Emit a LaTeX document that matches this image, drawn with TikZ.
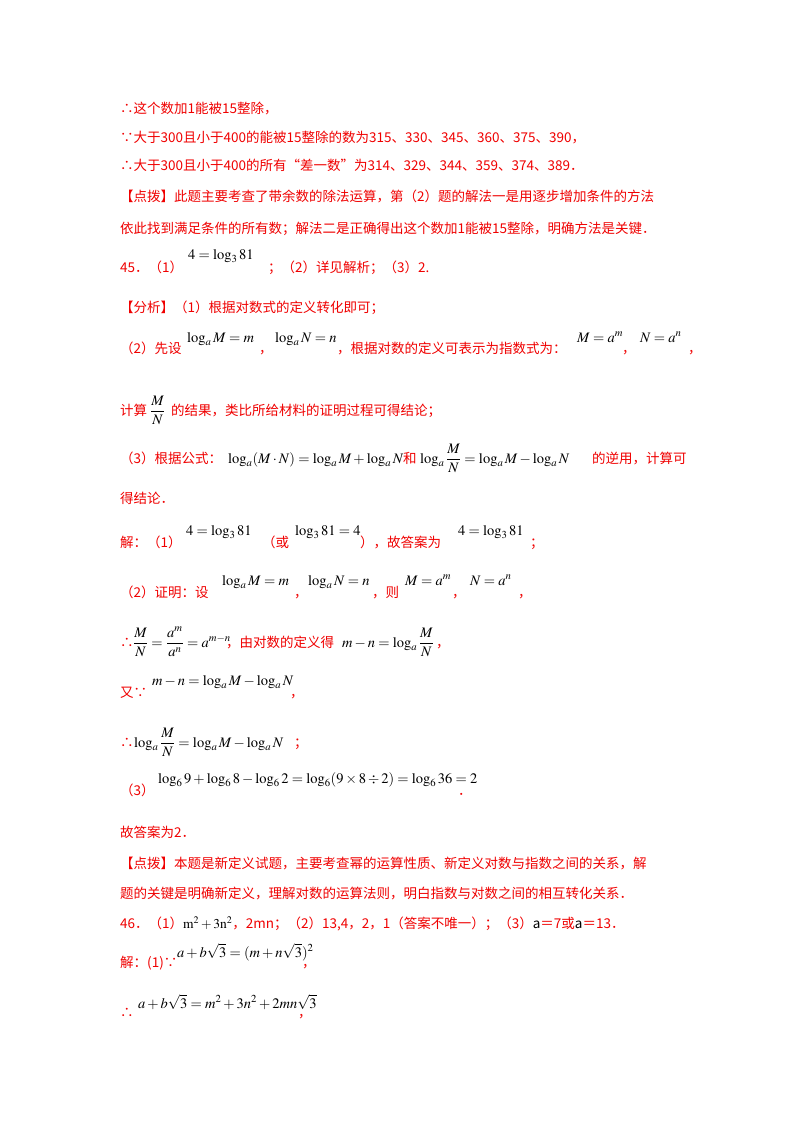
\documentclass[tikz,border=0pt]{standalone}
\usepackage{amsmath}
\usepackage{mathptmx}
\usepackage{fontspec}
\newfontfamily\cjk{Noto Sans CJK SC}
\begin{document}
\begin{tikzpicture}[x=1pt,y=-1pt,
  t/.style={anchor=base west,inner sep=0pt,text={rgb,255:red,240;green,0;blue,0},font=\fontsize{13.5}{15}\cjk\selectfont},
  m/.style={anchor=base west,inner sep=0pt,text=black,font=\fontsize{14.5}{15}\selectfont}]
\useasboundingbox[fill=white] (0,0) rectangle (800,1132);
\node[t] (l1) at (120,113) {∴这个数加1能被15整除，};
\node[t] (l2) at (120,142) {∵大于300且小于400的能被15整除的数为315、330、345、360、375、390，};
\node[t] (l3) at (120,170) {∴大于300且小于400的所有“差一数”为314、329、344、359、374、389．};
\node[t] (l4) at (120,201) {【点拨】此题主要考查了带余数的除法运算，第（2）题的解法一是用逐步增加条件的方法};
\node[t] (l5) at (120,233) {依此找到满足条件的所有数；解法二是正确得出这个数加1能被15整除，明确方法是关键．};
\node[t] (l6) at (120,272) {45．（1）};
\node[m] (l6m) at (188,259) {$4=\log_3 81$};
\node[t] (l6b) at (268,272) {；（2）详见解析；（3）2.};
\node[t] (l7) at (120,312) {【分析】（1）根据对数式的定义转化即可；};
\node[t] (l8) at (120,353) {（2）先设};
\node[m] (l8a) at (187,342) {$\log_a M=m$};
\node[t] (l8b) at (259,353) {，};
\node[m] (l8c) at (275,342) {$\log_a N=n$};
\node[t] (l8d) at (337,353) {，根据对数的定义可表示为指数式为：};
\node[m] (l8e) at (577,342) {$M=a^m$};
\node[t] (l8f) at (622,353) {，};
\node[m] (l8g) at (640,342) {$N=a^n$};
\node[t] (l8h) at (688,353) {，};
\node[t] (l9) at (120,415) {计算};
\node[m] (l9a) at (150,415) {$\dfrac{M}{N}$};
\node[t] (l9b) at (171,415) {的结果，类比所给材料的证明过程可得结论；};
\node[t] (l10) at (120,463) {（3）根据公式：};
\node[m] (l10a) at (228,463) {$\log_a(M\cdot N)=\log_a M+\log_a N$};
\node[t] (l10b) at (403,463) {和};
\node[m] (l10c) at (420,463) {$\log_a\dfrac{M}{N}=\log_a M-\log_a N$};
\node[t] (l10d) at (592,463) {的逆用，计算可};
\node[t] (l11) at (120,503) {得结论．};
\node[t] (l12) at (120,547) {解：（1）};
\node[m] (l12a) at (186,535) {$4=\log_3 81$};
\node[t] (l12b) at (262,547) {（或};
\node[m] (l12c) at (295,535) {$\log_3 81=4$};
\node[t] (l12d) at (360,547) {），故答案为};
\node[m] (l12e) at (458,535) {$4=\log_3 81$};
\node[t] (l12f) at (530,547) {；};
\node[t] (l13) at (120,597) {（2）证明：设};
\node[m] (l13a) at (222,585) {$\log_a M=m$};
\node[t] (l13b) at (294,597) {，};
\node[m] (l13c) at (308,585) {$\log_a N=n$};
\node[t] (l13d) at (372,597) {，则};
\node[m] (l13e) at (405,585) {$M=a^m$};
\node[t] (l13f) at (452,597) {，};
\node[m] (l13g) at (470,585) {$N=a^n$};
\node[t] (l13h) at (518,597) {，};
\node[t] (l14) at (120,647) {∴};
\node[m] (l14a) at (133,647) {$\dfrac{M}{N}=\dfrac{a^m}{a^n}=a^{m-n}$};
\node[t] (l14b) at (226,647) {，由对数的定义得};
\node[m] (l14c) at (342,647) {$m-n=\log_a\dfrac{M}{N}$};
\node[t] (l14d) at (436,647) {，};
\node[t] (l15) at (120,697) {又∵};
\node[m] (l15a) at (152,685) {$m-n=\log_a M-\log_a N$};
\node[t] (l15b) at (290,697) {，};
\node[t] (l16) at (120,747) {∴};
\node[m] (l16a) at (134,747) {$\log_a\dfrac{M}{N}=\log_a M-\log_a N$};
\node[t] (l16b) at (294,747) {；};
\node[t] (l17) at (120,795) {（3）};
\node[m] (l17a) at (158,783) {$\log_6 9+\log_6 8-\log_6 2=\log_6(9\times 8\div 2)=\log_6 36=2$};
\node[t] (l17b) at (458,795) {．};
\node[t] (l18) at (120,837) {故答案为2．};
\node[t] (l19) at (120,868) {【点拨】本题是新定义试题，主要考查幂的运算性质、新定义对数与指数之间的关系，解};
\node[t] (l20) at (120,898) {题的关键是明确新定义，理解对数的运算法则，明白指数与对数之间的相互转化关系．};
\node[t] (l21) at (120,928) {46．（1）\textcolor{black}{$\mathrm{m}^2+3\mathrm{n}^2$}，2mn；（2）13,4，2，1（答案不唯一）；（3）\textcolor{black}{a}＝7或\textcolor{black}{a}＝13．};
\node[t] (l22) at (120,967) {解：(1)∵};
\node[m] (l22a) at (177,957) {$a+b\sqrt{3}=(m+n\sqrt{3})^2$};
\node[t] (l22b) at (302,967) {，};
\node[t] (l23) at (120,1017) {∴};
\node[m] (l23a) at (138,1008) {$a+b\sqrt{3}=m^2+3n^2+2mn\sqrt{3}$};
\node[t] (l23b) at (298,1017) {，};
\end{tikzpicture}
\end{document}
